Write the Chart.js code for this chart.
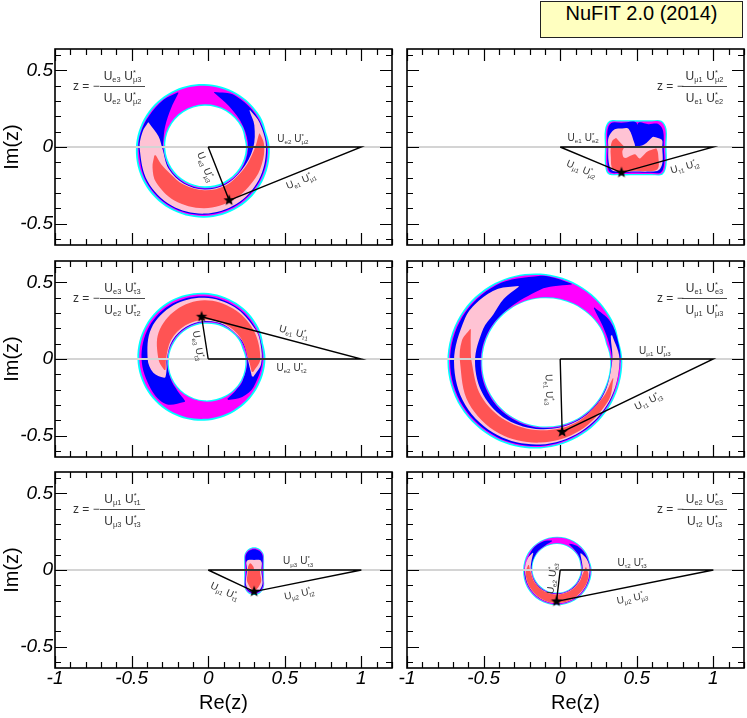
<!DOCTYPE html>
<html>
<head>
<meta charset="utf-8">
<title>NuFIT 2.0 unitarity triangles</title>
<script src="https://cdn.jsdelivr.net/npm/chart.js@4.4.1/dist/chart.umd.min.js"></script>
<style>
  body { margin: 0; background: #fff; }
  #wrap { position: relative; width: 747px; height: 718px; }
  #wrap canvas { position: absolute; left: 0; top: 0; }
  #tag { position: absolute; left: 540px; top: 1px; width: 201px; height: 35px; z-index: 10;
         background: #ffffc0; border: 1px solid #222; text-align: center; line-height: 35px;
         font: 20px "Liberation Sans", Arial, Helvetica, sans-serif; color: #000; }
</style>
</head>
<body>
<div id="wrap"><div id="tag">NuFIT 2.0 (2014)</div></div>
<script>
// axis ranges and tick labels
var reRange = [-1, 1.2];
var imRange = [-0.64, 0.64];
var reTicks = [-1, -0.5, 0, 0.5, 1];
var imTicks = [-0.5, 0, 0.5];
var baseRe = [0, 1];   // triangle base on the real axis

// best fit point of each triangle (panel order: TL, TR, ML, MR, BL, BR)
var starRe = [0.137, 0.400, -0.043, 0.013, 0.300, -0.024];
var starIm = [-0.348, -0.167, 0.276, -0.476, -0.141, -0.205];

// centre used to read the contours off the picture
var centreRe = [-0.025, 0.49, -0.025, -0.13, 0.30, -0.02];
var centreIm = [-0.01, 0, 0, -0.018, 0, 0];

// z = - numer / denom
var numer = [['e3','μ3'], ['μ1','μ2'], ['e3','τ3'], ['e1','e3'], ['μ1','τ1'], ['e2','e3']];
var denom = [['e2','μ2'], ['e1','e2'], ['e2','τ2'], ['μ1','μ3'], ['μ3','τ3'], ['τ2','τ3']];
var sideLabels = [
  [['e2','μ2'], ['e1','μ1'], ['e3','μ3']],
  [['e1','e2'], ['μ1','μ2'], ['τ1','τ2']],
  [['e1','τ1'], ['e2','τ2'], ['e3','τ3']],
  [['μ1','μ3'], ['τ1','τ3'], ['e1','e3']],
  [['μ3','τ3'], ['μ1','τ1'], ['μ2','τ2']],
  [['τ2','τ3'], ['μ2','μ3'], ['e2','e3']]
];

// contour bands: [angle (deg), inner radius, outer radius] around the centre
var p1Cyan = [[0,.271,.427],[30,.278,.421],[60,.281,.419],[90,.279,.422],[120,.273,.429],[150,.264,.438],[180,.255,.447],[210,.248,.453],[240,.245,.455],[270,.247,.452],[300,.253,.445],[330,.262,.436],[360,.271,.427]];
var p1Magenta = [[0,.281,.415],[30,.288,.409],[60,.291,.407],[90,.289,.41],[120,.283,.417],[150,.274,.426],[180,.265,.435],[210,.258,.441],[240,.255,.443],[270,.257,.44],[300,.263,.433],[330,.272,.424],[360,.281,.415]];
var p1Blue = [[115,.40,.405],[130,.34,.415],[150,.295,.42],[165,.275,.428],[180,.268,.43],[210,.262,.436],[240,.259,.437],[270,.261,.433],[300,.267,.426],[330,.276,.418],[360,.285,.41],[390,.292,.403],[420,.32,.40],[440,.37,.375]];
var p1Pink = [[155,.40,.405],[165,.31,.418],[180,.274,.422],[210,.268,.428],[240,.265,.43],[270,.267,.425],[300,.273,.418],[330,.282,.41],[360,.318,.403],[385,.36,.398],[400,.385,.39]];
var p1Red = [[188,.32,.33],[200,.30,.36],[215,.278,.385],[240,.272,.392],[270,.273,.39],[300,.279,.385],[330,.288,.385],[350,.31,.39],[365,.34,.39],[375,.37,.375]];

var p2Cyan = [[0,0,.204],[30,0,.236],[45,0,.243],[60,0,.201],[90,0,.174],[120,0,.201],[135,0,.24],[150,0,.228],[180,0,.198],[210,0,.228],[225,0,.25],[240,0,.213],[270,0,.185],[300,0,.213],[315,0,.253],[330,0,.236],[360,0,.204]];
var p2Magenta = [[0,0,.195],[30,0,.227],[45,0,.234],[60,0,.192],[90,0,.165],[120,0,.192],[135,0,.231],[150,0,.219],[180,0,.189],[210,0,.219],[225,0,.241],[240,0,.204],[270,0,.176],[300,0,.204],[315,0,.244],[330,0,.227],[360,0,.195]];
var p2Blue = [[0,0,.186],[30,0,.21],[45,0,.212],[60,0,.172],[83,0,.158],[85,0,.03],[87,0,.158],[120,0,.183],[135,0,.222],[150,0,.21],[180,0,.18],[210,0,.21],[225,0,.232],[240,0,.195],[270,0,.167],[300,0,.195],[315,0,.235],[330,0,.218],[360,0,.186]];
var p2Pink = [[100,0,.02],[110,0,.125],[125,0,.148],[140,0,.178],[160,0,.185],[180,0,.176],[210,0,.20],[225,0,.215],[240,0,.185],[270,0,.16],[300,0,.185],[315,0,.215],[330,0,.205],[360,0,.176],[375,.06,.18],[390,.13,.135]];
var p2Red = [[155,.135,.14],[165,.098,.155],[180,.074,.16],[200,.09,.17],[225,.10,.205],[250,.055,.17],[270,.048,.155],[290,.08,.168],[315,.076,.205],[340,.085,.16],[355,.13,.14]];

var p3Cyan = [[0,.268,.399],[30,.256,.409],[60,.242,.4215],[90,.23,.433],[120,.224,.4405],[150,.224,.442],[180,.232,.437],[210,.244,.427],[240,.258,.4145],[270,.27,.403],[300,.276,.3955],[330,.276,.394],[360,.268,.399]];
var p3Magenta = [[0,.276,.387],[30,.264,.397],[60,.25,.41],[90,.238,.421],[120,.232,.429],[150,.232,.43],[180,.24,.425],[210,.252,.415],[240,.266,.403],[270,.278,.391],[300,.284,.384],[330,.284,.382],[360,.276,.387]];
var p3Blue = [[300,.30,.31],[315,.29,.35],[330,.288,.37],[360,.28,.38],[390,.268,.39],[420,.254,.40],[450,.242,.41],[480,.236,.418],[510,.236,.418],[540,.243,.41],[570,.255,.40],[590,.272,.385],[605,.30,.31]];
var p3Pink = [[340,.33,.34],[355,.29,.372],[375,.278,.38],[390,.27,.385],[420,.258,.392],[450,.247,.40],[480,.241,.405],[510,.241,.40],[540,.246,.37],[555,.255,.345],[565,.28,.29]];
var p3Red = [[345,.32,.33],[360,.288,.365],[390,.274,.372],[420,.263,.378],[450,.257,.383],[480,.252,.37],[510,.25,.345],[540,.25,.30],[555,.262,.272]];

var p4Cyan = [[0,.457,.536],[30,.449,.543],[60,.434,.558],[90,.414,.576],[120,.395,.593],[150,.382,.604],[180,.379,.606],[210,.386,.599],[240,.402,.584],[270,.422,.566],[300,.441,.549],[330,.453,.538],[360,.457,.536]];
var p4Magenta = [[0,.463,.526],[30,.455,.533],[60,.44,.548],[90,.42,.566],[120,.401,.583],[150,.388,.594],[180,.385,.596],[210,.392,.589],[240,.408,.574],[270,.428,.556],[300,.447,.539],[330,.459,.528],[360,.463,.526]];
var p4Blue = [[68,.545,.55],[80,.50,.556],[90,.47,.561],[120,.405,.577],[150,.392,.587],[180,.389,.589],[210,.397,.582],[240,.412,.567],[270,.431,.55],[300,.45,.534],[330,.462,.524],[360,.466,.522],[375,.465,.525],[390,.47,.527],[405,.495,.50]];
var p4Pink = [[106,.51,.515],[120,.475,.55],[135,.435,.565],[150,.43,.567],[180,.426,.563],[210,.43,.565],[240,.435,.555],[270,.44,.54],[300,.455,.527],[330,.466,.519],[360,.469,.518],[380,.49,.50]];
var p4Red = [[155,.50,.505],[165,.47,.53],[180,.448,.524],[210,.446,.54],[240,.445,.54],[270,.447,.528],[300,.46,.518],[330,.47,.512],[347,.485,.49]];

var p5Cyan = [[0,0,.065],[30,0,.075],[45,0,.092],[60,0,.122],[75,0,.142],[90,0,.148],[105,0,.142],[120,0,.122],[135,0,.092],[150,0,.075],[180,0,.065],[210,0,.075],[225,0,.092],[240,0,.128],[255,0,.155],[270,0,.163],[285,0,.155],[300,0,.128],[315,0,.092],[330,0,.075],[360,0,.065]];
var p5Magenta = [[0,0,.059],[30,0,.069],[45,0,.086],[60,0,.116],[75,0,.136],[90,0,.142],[105,0,.136],[120,0,.116],[135,0,.086],[150,0,.069],[180,0,.059],[210,0,.069],[225,0,.086],[240,0,.122],[255,0,.149],[270,0,.157],[285,0,.149],[300,0,.122],[315,0,.086],[330,0,.069],[360,0,.059]];
var p5Blue = [[0,0,.053],[30,0,.063],[45,0,.08],[60,0,.11],[75,0,.13],[90,0,.136],[105,0,.13],[120,0,.11],[135,0,.08],[150,0,.063],[180,0,.053],[210,0,.063],[225,0,.08],[240,0,.116],[255,0,.143],[270,0,.151],[285,0,.143],[300,0,.116],[315,0,.08],[330,0,.063],[360,0,.053]];
var p5Pink = [[0,0,.047],[30,0,.057],[45,0,.07],[60,0,.075],[90,0,.065],[120,0,.075],[135,0,.072],[150,0,.057],[180,0,.047],[210,0,.057],[225,0,.074],[240,0,.108],[255,0,.135],[270,0,.144],[285,0,.135],[300,0,.108],[315,0,.074],[330,0,.057],[360,0,.047]];
var p5Red = [[100,0,.02],[120,0,.05],[150,0,.045],[180,0,.042],[210,0,.05],[240,0,.09],[270,0,.135],[300,0,.09],[330,0,.045],[360,0,.035],[380,0,.01]];

var p6Cyan = [[0,.155,.226],[30,.161,.221],[60,.166,.219],[90,.169,.2175],[120,.169,.219],[150,.166,.221],[180,.161,.222],[210,.155,.227],[240,.15,.2295],[270,.147,.2305],[300,.148,.2295],[330,.15,.227],[360,.155,.226]];
var p6Magenta = [[0,.16,.22],[30,.166,.215],[60,.171,.213],[90,.174,.2115],[120,.174,.213],[150,.171,.215],[180,.166,.216],[210,.16,.221],[240,.155,.2235],[270,.152,.2245],[300,.153,.2235],[330,.155,.221],[360,.16,.22]];
var p6Blue = [[100,.19,.196],[115,.178,.208],[140,.174,.21],[180,.168,.212],[210,.163,.216],[240,.158,.219],[270,.155,.22],[300,.156,.219],[330,.158,.217],[360,.163,.216],[390,.168,.211],[410,.174,.205],[425,.185,.19]];
var p6Pink = [[145,.19,.195],[160,.178,.207],[180,.171,.21],[210,.166,.213],[240,.161,.216],[270,.158,.217],[300,.159,.216],[330,.161,.214],[360,.166,.213],[380,.171,.206],[395,.185,.19]];
var p6Red = [[170,.187,.192],[185,.173,.206],[210,.168,.211],[240,.163,.214],[270,.16,.215],[300,.161,.214],[330,.164,.211],[350,.168,.208],[365,.186,.191]];

var bands = [
  [p1Cyan, p1Magenta, p1Blue, p1Pink, p1Red],
  [p2Cyan, p2Magenta, p2Blue, p2Pink, p2Red],
  [p3Cyan, p3Magenta, p3Blue, p3Pink, p3Red],
  [p4Cyan, p4Magenta, p4Blue, p4Pink, p4Red],
  [p5Cyan, p5Magenta, p5Blue, p5Pink, p5Red],
  [p6Cyan, p6Magenta, p6Blue, p6Pink, p6Red]
];

// ---- layout / style ----
var FONT = '"Liberation Sans", Arial, Helvetica, sans-serif';
var fills = ['#00ffff', '#ff00ff', '#0000ff', '#ffc3d4', '#ff5454'];
var colX = [[55, 392], [407, 744]];
var rowY = [[49, 245], [261, 457], [472, 668]];
// side label placement: [re, im, rotation deg]
var sidePlace = [
  [[0.553, 0.057, 0], [0.605, -0.217, -22], [-0.015, -0.13, 68.5]],
  [[0.150, 0.061, 0], [0.14, -0.141, 22.7], [0.813, -0.126, -15.5]],
  [[0.561, 0.178, 14.7], [0.544, -0.055, 0], [-0.063, 0.087, 81]],
  [[0.618, 0.054, 0], [0.574, -0.272, -25.7], [-0.07, -0.2, 88]],
  [[0.587, 0.059, 0], [0.109, -0.137, 25], [0.594, -0.152, -11.4]],
  [[0.47, 0.048, 0], [0.47, -0.18, -11.3], [-0.056, -0.054, -83]]
];

function fmt(v) { return String(Math.round(v * 10) / 10); }

function toPoint(cRe, cIm, ang, r) {
  var a = ang * Math.PI / 180;
  return {x: cRe + r * Math.cos(a), y: cIm + r * Math.sin(a)};
}
function isFull(band) { return band[0][0] === 0 && band[band.length - 1][0] === 360; }

// closed loop through one edge of a full band (the second row is repeated so the spline closes smoothly)
function loopPoints(cRe, cIm, band, edge) {
  var rows = band.concat([band[1]]);
  return rows.map(function (b) { return toPoint(cRe, cIm, b[0], b[edge]); });
}
// crescent: outer edge forward, inner edge back
function crescentPoints(cRe, cIm, band) {
  var outer = band.map(function (b) { return toPoint(cRe, cIm, b[0], b[2]); });
  var inner = band.slice().reverse().map(function (b) { return toPoint(cRe, cIm, b[0], b[1]); });
  return outer.concat(inner);
}

function starImage(r) {
  var c = document.createElement('canvas');
  c.width = c.height = 2 * r + 2;
  var g = c.getContext('2d');
  g.beginPath();
  for (var k = 0; k < 10; k++) {
    var rr = k % 2 ? r * 0.42 : r, a = -Math.PI / 2 + k * Math.PI / 5;
    g.lineTo(r + 1 + rr * Math.cos(a), r + 1 + rr * Math.sin(a));
  }
  g.closePath();
  g.fillStyle = '#000';
  g.fill();
  return c;
}
var starImg = starImage(6);

function pairWidth(ctx, a, b, fs) {
  ctx.font = fs + 'px ' + FONT;
  var wU = ctx.measureText('U').width;
  ctx.font = (fs * 0.62) + 'px ' + FONT;
  return 2 * wU + ctx.measureText(a).width + fs * 0.3 +
    Math.max(ctx.measureText(b).width, ctx.measureText('*').width);
}

function drawPair(ctx, x, y, a, b, fs) {
  var sub = fs * 0.62;
  ctx.font = fs + 'px ' + FONT;
  ctx.fillText('U', x, y);
  x += ctx.measureText('U').width;
  ctx.font = sub + 'px ' + FONT;
  ctx.fillText(a, x, y + fs * 0.22);
  x += ctx.measureText(a).width + fs * 0.3;
  ctx.font = fs + 'px ' + FONT;
  ctx.fillText('U', x, y);
  x += ctx.measureText('U').width;
  ctx.font = sub + 'px ' + FONT;
  ctx.fillText('*', x, y - fs * 0.4);
  ctx.fillText(b, x, y + fs * 0.22);
}

// frame with inward ticks (major every 0.5, minor every 0.1)
function drawFrame(chart) {
  var ctx = chart.ctx, a = chart.chartArea, sx = chart.scales.x, sy = chart.scales.y, v, p, len;
  ctx.save();
  ctx.strokeStyle = '#000';
  ctx.lineWidth = 1.2;
  ctx.beginPath();
  for (v = Math.ceil(reRange[0] * 10 - 1e-6); v <= Math.floor(reRange[1] * 10 + 1e-6); v++) {
    len = v % 5 === 0 ? 12 : 6;
    p = Math.round(sx.getPixelForValue(v / 10)) + 0.5;
    ctx.moveTo(p, a.top); ctx.lineTo(p, a.top + len);
    ctx.moveTo(p, a.bottom); ctx.lineTo(p, a.bottom - len);
  }
  for (v = Math.ceil(imRange[0] * 10 - 1e-6); v <= Math.floor(imRange[1] * 10 + 1e-6); v++) {
    len = v % 5 === 0 ? 12 : 6;
    p = Math.round(sy.getPixelForValue(v / 10)) + 0.5;
    ctx.moveTo(a.left, p); ctx.lineTo(a.left + len, p);
    ctx.moveTo(a.right, p); ctx.lineTo(a.right - len, p);
  }
  ctx.stroke();
  ctx.lineWidth = 1.6;
  ctx.strokeRect(a.left, a.top, a.right - a.left, a.bottom - a.top);
  ctx.restore();
}

function drawNotes(chart, i) {
  var ctx = chart.ctx, area = chart.chartArea, sx = chart.scales.x, sy = chart.scales.y;
  ctx.save();
  ctx.fillStyle = '#333';
  ctx.strokeStyle = '#333';
  ctx.textAlign = 'left';
  ctx.textBaseline = 'alphabetic';
  sideLabels[i].forEach(function (L, k) {
    var p = sidePlace[i][k], fs = 10;
    var w = pairWidth(ctx, L[0], L[1], fs);
    ctx.save();
    ctx.translate(sx.getPixelForValue(p[0]), sy.getPixelForValue(p[1]));
    ctx.rotate(p[2] * Math.PI / 180);
    drawPair(ctx, -w / 2, fs * 0.35, L[0], L[1], fs);
    ctx.restore();
  });
  // formula for z
  var left = i % 2 === 0, fs = 12;
  var zx = left ? area.left + 18 : area.right - 87;
  var bx0 = left ? area.left + 45 : area.right - 62, bx1 = bx0 + 45, by = area.top + 37;
  ctx.font = fs + 'px ' + FONT;
  ctx.fillText('z = \u2212', zx, by + 4);
  ctx.lineWidth = 0.9;
  ctx.beginPath();
  ctx.moveTo(bx0, by + 0.5);
  ctx.lineTo(bx1, by + 0.5);
  ctx.stroke();
  var wn = pairWidth(ctx, numer[i][0], numer[i][1], fs);
  drawPair(ctx, (bx0 + bx1) / 2 - wn / 2, by - 6.5, numer[i][0], numer[i][1], fs);
  var wd = pairWidth(ctx, denom[i][0], denom[i][1], fs);
  drawPair(ctx, (bx0 + bx1) / 2 - wd / 2, by + 15.5, denom[i][0], denom[i][1], fs);
  ctx.restore();
}

function axis(horiz, size, labels, title) {
  var vals = horiz ? reTicks : imTicks;
  var s = {
    type: 'linear', position: horiz ? 'bottom' : 'left',
    min: horiz ? reRange[0] : imRange[0],
    max: horiz ? reRange[1] : imRange[1],
    grid: { display: false, drawTicks: false },
    border: { display: false },
    afterBuildTicks: function (sc) { sc.ticks = vals.map(function (v) { return {value: v}; }); },
    ticks: { display: labels, autoSkip: false, maxRotation: 0, padding: horiz ? -1 : 2, color: '#000',
             font: { family: FONT, size: 19, style: 'italic' }, callback: fmt },
    afterFit: function (sc) { if (horiz) sc.height = size; else sc.width = size; }
  };
  if (title) {
    s.title = { display: true, text: title, color: '#000', font: { family: FONT, size: 20 },
                padding: horiz ? { top: 0, bottom: 3 } : { top: 0, bottom: 0 } };
  }
  return s;
}

function makePanel(i) {
  var col = i % 2, row = Math.floor(i / 2);
  var isLeft = col === 0, isBottom = row === 2;
  var cv = document.createElement('canvas');
  cv.width = 747; cv.height = 718;
  document.getElementById('wrap').appendChild(cv);

  var cRe = centreRe[i], cIm = centreIm[i];
  var sets = [], holes = [];
  bands[i].forEach(function (band, k) {
    var full = isFull(band);
    sets.push({ data: full ? loopPoints(cRe, cIm, band, 2) : crescentPoints(cRe, cIm, band),
                fill: 'shape', backgroundColor: fills[k], borderWidth: 0, pointRadius: 0, tension: 0.35 });
    var hasHole = full && band.some(function (b) { return b[1] > 0; });
    if (hasHole) {
      holes.unshift({ data: loopPoints(cRe, cIm, band, 1), fill: 'shape',
                      backgroundColor: k === 0 ? '#ffffff' : fills[k - 1],
                      borderWidth: 0, pointRadius: 0, tension: 0.35 });
    }
  });
  sets = sets.concat(holes);
  sets.push({ data: [{x: reRange[0], y: 0}, {x: reRange[1], y: 0}], borderColor: '#d4d4d4',
              borderWidth: 2, pointRadius: 0, fill: false, tension: 0 });
  var star = {x: starRe[i], y: starIm[i]};
  sets.push({ data: [{x: baseRe[0], y: 0}, {x: baseRe[1], y: 0}, star, {x: baseRe[0], y: 0}],
              borderColor: '#000', borderWidth: 1.4, pointRadius: 0, fill: false, tension: 0 });
  sets.push({ data: [star], showLine: false, pointStyle: starImg, pointRadius: 6,
              borderWidth: 0, fill: false });
  sets.forEach(function (d, k) { d.order = sets.length - k; });

  new Chart(cv, {
    type: 'line',
    data: { datasets: sets },
    options: {
      responsive: false, maintainAspectRatio: false, animation: false, devicePixelRatio: 1,
      events: [],
      layout: {
        autoPadding: false,
        padding: { left: isLeft ? 0 : colX[1][0], right: 747 - colX[col][1],
                   top: rowY[row][0], bottom: isBottom ? 0 : 718 - rowY[row][1] }
      },
      plugins: { legend: { display: false }, tooltip: { enabled: false } },
      scales: {
        x: axis(true, isBottom ? 50 : 0, isBottom, isBottom ? 'Re(z)' : null),
        y: axis(false, isLeft ? 55 : 0, isLeft, isLeft ? 'Im(z)' : null)
      }
    },
    plugins: [{ id: 'notes' + i, afterDatasetsDraw: function (chart) { drawFrame(chart); drawNotes(chart, i); } }]
  });
}

for (var i = 0; i < 6; i++) makePanel(i);
</script>
</body>
</html>
